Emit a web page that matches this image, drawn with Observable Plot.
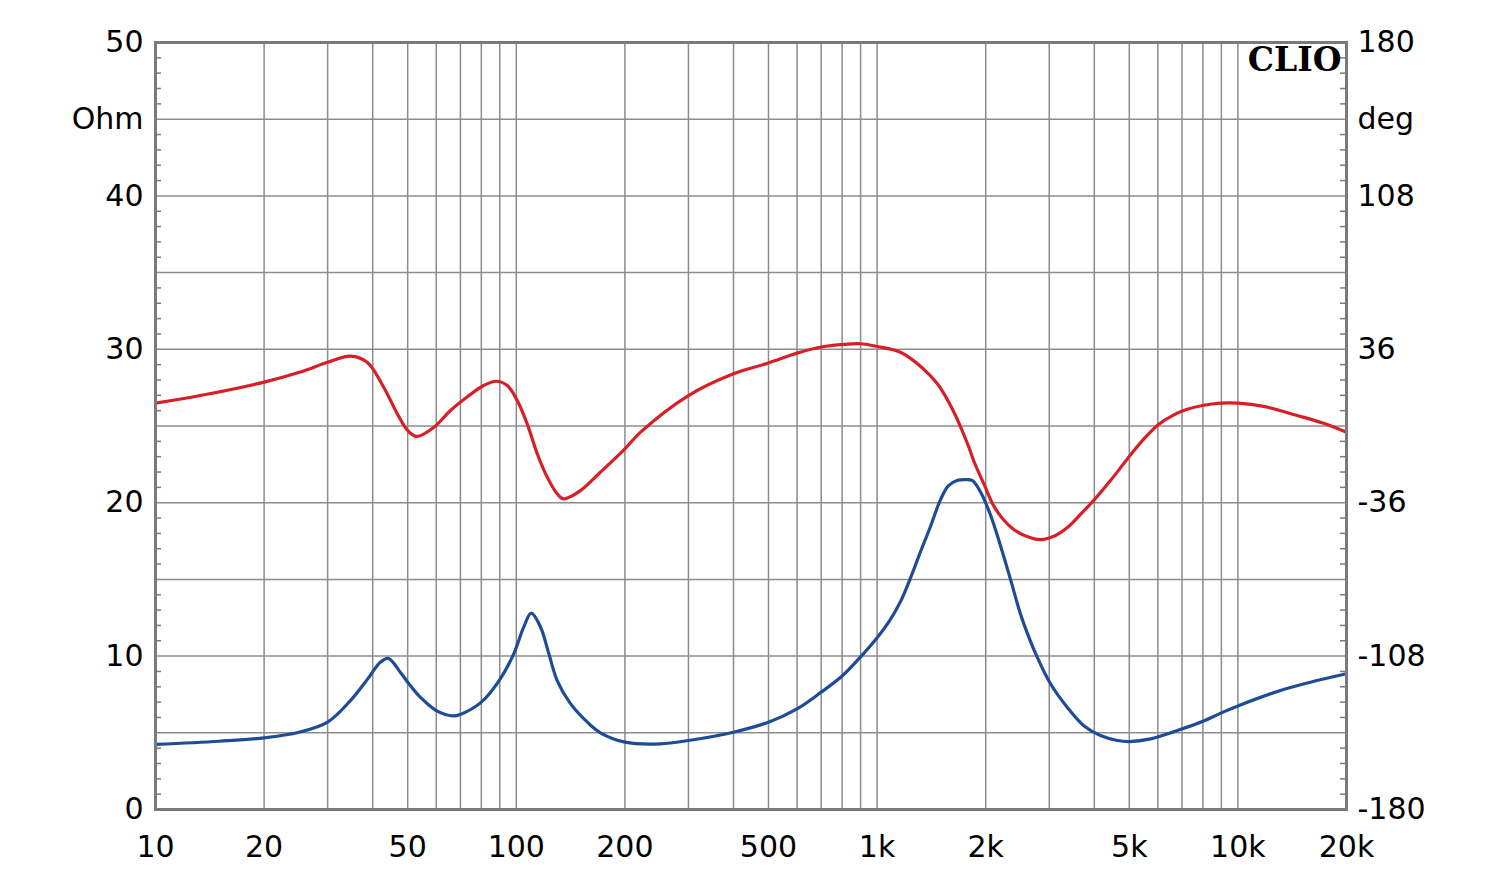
<!DOCTYPE html>
<html>
<head>
<meta charset="utf-8">
<script src="https://cdn.jsdelivr.net/npm/d3@7"></script>
<script src="https://cdn.jsdelivr.net/npm/@observablehq/plot@0.6"></script>
<style>
  html, body { margin: 0; padding: 0; background: #fff; }
  #chart { width: 1500px; height: 886px; }
</style>
</head>
<body>
<div id="chart"></div>
<script>
// Impedance (blue, Ohm) — frequency in Hz
const impFreq = [10, 15, 20, 25, 30, 34.7, 38.7, 42, 44.2, 47.7, 50, 54.3, 60, 67, 70, 80, 90.3, 98.4, 104.9, 110, 116.7, 123.1, 129.8, 141.3, 160.6, 171, 200, 251, 300, 400, 500, 600, 700, 800, 900, 1000, 1089, 1161, 1238, 1319, 1406, 1499, 1575, 1665, 1750, 1834, 1935, 2062, 2198, 2343, 2470, 2551, 2778, 3024, 3364, 3733, 4160, 4637, 5000, 5726, 7021, 8000, 9000, 10000, 13124, 15889, 20000];
const impOhm  = [4.24, 4.45, 4.67, 5.04, 5.7, 7.1, 8.5, 9.6, 9.85, 8.95, 8.3, 7.3, 6.45, 6.1, 6.2, 7.0, 8.52, 10.15, 11.9, 12.8, 11.9, 10.15, 8.4, 6.9, 5.5, 5.0, 4.39, 4.28, 4.5, 5.04, 5.69, 6.56, 7.65, 8.7, 9.95, 11.2, 12.4, 13.55, 15.1, 16.8, 18.45, 20.2, 21.1, 21.45, 21.5, 21.45, 20.7, 19.2, 17.2, 15.0, 13.1, 12.1, 9.93, 8.2, 6.67, 5.48, 4.82, 4.5, 4.43, 4.6, 5.26, 5.75, 6.3, 6.75, 7.76, 8.3, 8.85];

// Phase (red, degrees)
const phaseFreq = [10, 13.3, 20, 25.2, 30, 34.7, 38.6, 42.9, 46.8, 50, 52.9, 59.1, 65.7, 72.9, 81.2, 88, 94.4, 100.6, 107.2, 114.3, 121.8, 129.8, 135, 150.6, 171, 200, 221, 300, 400, 500, 600, 701, 812, 897, 1004, 1161, 1328, 1469, 1624, 1797, 1851, 1985, 2102, 2226, 2373, 2562, 2838, 3123, 3393, 3662, 3980, 4436, 4975, 5474, 6025, 6587, 7202, 7978, 8949, 10000, 11776, 14632, 17274, 20000];
const phaseDeg  = [10.7, 14.3, 20.6, 25.3, 29.9, 32.8, 29.9, 18.2, 5.7, -2.1, -4.9, -0.6, 7.3, 13.5, 19.0, 21.0, 19.0, 12.0, 1.0, -13.0, -24.0, -31.8, -34.2, -30.3, -21.7, -10.7, -2.9, 14.3, 24.5, 29.6, 34.2, 37.1, 38.3, 38.6, 37.3, 34.6, 27.6, 19.8, 7.3, -10, -16.2, -27.9, -37.3, -43.4, -48.1, -51.4, -53.3, -51.4, -47.2, -41.5, -35.0, -25.6, -14.8, -6.3, 0.7, 4.9, 7.7, 9.6, 10.7, 10.7, 9.2, 4.9, 1.3, -2.9];

// Grid and tick values
const xGrid = [20, 30, 40, 50, 60, 70, 80, 90, 100, 200, 300, 400, 500, 600, 700, 800, 900, 1000, 2000, 3000, 4000, 5000, 6000, 7000, 8000, 9000, 10000];
const yGrid = [5, 10, 15, 20, 25, 30, 35, 40, 45];
const yMinor = [1,2,3,4,6,7,8,9,11,12,13,14,16,17,18,19,21,22,23,24,26,27,28,29,31,32,33,34,36,37,38,39,41,42,43,44,46,47,48,49];

const xTicks = [10, 20, 50, 100, 200, 500, 730, 1000, 2000, 5000, 10000, 20000];
const xTickLabels = ["10", "20", "50", "100", "200", "500", "Hz", "1k", "2k", "5k", "10k", "20k"];
const leftTicks = [0, 10, 20, 30, 40, 45, 50];
const leftTickLabels = ["0", "10", "20", "30", "40", "Ohm", "50"];
const rightTickLabels = ["-180", "-108", "-36", "36", "108", "deg", "180"];

const red = "#d61f26";
const blue = "#1e4b96";
const gridColor = "#8c8c8c";
const frameColor = "#7a7a7a";

const toOhm = d => (d + 180) / 7.2; // map -180..180 deg onto 0..50 Ohm
const imp = impFreq.map((f, i) => ({f, v: impOhm[i]}));
const ph = phaseFreq.map((f, i) => ({f, v: toOhm(phaseDeg[i])}));

const xLab = new Map(xTicks.map((t, i) => [t, xTickLabels[i]]));
const lLab = new Map(leftTicks.map((t, i) => [t, leftTickLabels[i]]));
const rLab = new Map(leftTicks.map((t, i) => [t, rightTickLabels[i]]));

const innerW = 1500 - 155 - 154;
const labelFont = "'DejaVu Sans', 'Liberation Sans', Arial, sans-serif";

const chart = Plot.plot({
  width: 1500,
  height: 886,
  marginLeft: 155,
  marginRight: 154,
  marginTop: 42,
  marginBottom: 77,
  x: {type: "log", domain: [10, 20000], label: null},
  y: {domain: [0, 50], label: null},
  style: {fontFamily: labelFont, fontSize: "30px", color: "#000", background: "#fff"},
  marks: [
    Plot.ruleX(xGrid, {stroke: gridColor, strokeWidth: 1.5}),
    Plot.ruleY(yGrid, {stroke: gridColor, strokeWidth: 1.5}),
    Plot.tickY(yMinor, {y: d => d, insetRight: innerW - 6, stroke: frameColor, strokeWidth: 1.5}),
    Plot.tickY(yMinor, {y: d => d, insetLeft: innerW - 6, stroke: frameColor, strokeWidth: 1.5}),
    Plot.line(ph, {x: "f", y: "v", stroke: red, strokeWidth: 3.2, curve: "catmull-rom"}),
    Plot.line(imp, {x: "f", y: "v", stroke: blue, strokeWidth: 3.2, curve: "catmull-rom"}),
    Plot.frame({stroke: frameColor, strokeWidth: 3}),
    Plot.axisX(xTicks, {anchor: "bottom", tickSize: 0, tickPadding: 26, fontSize: 30, label: null, tickFormat: d => xLab.get(d)}),
    Plot.axisY(leftTicks, {anchor: "left", tickSize: 0, tickPadding: 12, fontSize: 30, label: null, tickFormat: d => lLab.get(d)}),
    Plot.axisY(leftTicks, {anchor: "right", tickSize: 0, tickPadding: 11, fontSize: 30, label: null, tickFormat: d => rLab.get(d)}),
    Plot.text(["CLIO"], {frameAnchor: "top-right", text: d => d, textAnchor: "end", lineAnchor: "top", dx: -5, dy: 5, fontFamily: "'DejaVu Serif', serif", fontWeight: "bold", fontSize: 33, fill: "#000"})
  ]
});

document.getElementById("chart").appendChild(chart);
</script>
</body>
</html>
